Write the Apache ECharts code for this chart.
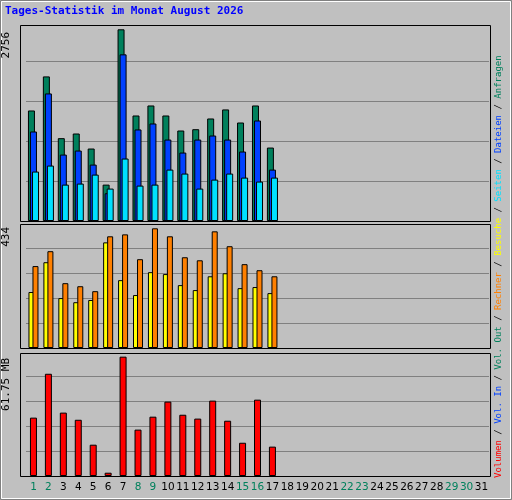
<!DOCTYPE html>
<html><head><meta charset="utf-8">
<script src="https://cdn.jsdelivr.net/npm/echarts@6/dist/echarts.min.js"></script>
<style>html,body{margin:0;padding:0;background:#c0c0c0}#c{width:512px;height:500px}</style>
</head><body><div id="c"></div>
<script>
const days = Array.from({length:31},(_,i)=>String(i+1));
const weekendDays = [1,2,8,9,15,16,22,23,29,30];
const anfragen = [1589,2079,1191,1258,1042,523,2756,1517,1661,1517,1301,1320,1474,1604,1416,1661,1056];
const dateien  = [1287,1834,955,1013,811,399,2396,1316,1402,1171,984,1171,1229,1171,999,1445,739];
const seiten   = [711,797,523,538,667,466,898,509,523,739,682,466,595,682,624,567,624];
const besuche  = [203,311,181,166,174,383,246,192,275,268,228,210,260,271,217,221,199];
const rechner  = [297,351,235,224,206,405,412,322,434,405,329,318,423,369,304,282,260];
const volumen  = [30.2,52.9,32.8,29.1,16.2,1.7,61.75,24.0,30.7,38.5,31.7,29.7,39.0,28.6,17.2,39.5,15.2];
const maxLabels = ['2756','434','61.75 MB'];
const title = 'Tages-Statistik im Monat August 2026';

const chart = echarts.init(document.getElementById('c'));
const panels = [{top:25,height:196},{top:224,height:124},{top:353,height:123}];
const grids = panels.map(p=>({left:26,right:23,top:p.top,height:p.height,show:false}));
const xAxes = [0,1,2].map(i=>({type:'category',gridIndex:i,data:days,
  axisLine:{show:false},axisTick:{show:false},
  axisLabel:i===2?{show:true,interval:0,margin:6,
    formatter:v=>weekendDays.includes(+v)?'{w|'+v+'}':'{n|'+v+'}',
    rich:{w:{color:'#00805c',fontFamily:'DejaVu Sans',fontSize:10.5},n:{color:'#000',fontFamily:'DejaVu Sans',fontSize:10.5}}}:{show:false}}));
const gl = {show:true,lineStyle:{color:'#808080',width:1}};
const yAxes = [
  {gridIndex:0,min:0,max:2818,interval:576},
  {gridIndex:1,min:0,max:449.6,interval:90.4},
  {gridIndex:2,min:0,max:63.65,interval:12.94}
].map(a=>Object.assign(a,{type:'value',axisLabel:{show:false},axisLine:{show:false},axisTick:{show:false},splitLine:gl}));
const bs = c=>({color:c,borderColor:'#000',borderWidth:1});
const sep = '{s| / }';
const F = '9px "DejaVu Sans Mono"';
chart.setOption({
  backgroundColor:'#c0c0c0',animation:false,
  grid:grids,xAxis:xAxes,yAxis:yAxes,
  series:[
    {type:'bar',xAxisIndex:0,yAxisIndex:0,data:anfragen,barWidth:7,barGap:'-71%',itemStyle:bs('#00805c')},
    {type:'bar',xAxisIndex:0,yAxisIndex:0,data:dateien,barWidth:7,barGap:'-71%',itemStyle:bs('#0040ff')},
    {type:'bar',xAxisIndex:0,yAxisIndex:0,data:seiten,barWidth:7,barGap:'-71%',itemStyle:bs('#00e0ff')},
    {type:'bar',xAxisIndex:1,yAxisIndex:1,data:besuche,barWidth:6,barGap:'-33%',itemStyle:bs('#ffff00')},
    {type:'bar',xAxisIndex:1,yAxisIndex:1,data:rechner,barWidth:6,barGap:'-33%',itemStyle:bs('#ff8000')},
    {type:'bar',xAxisIndex:2,yAxisIndex:2,data:volumen,barWidth:7,itemStyle:bs('#ff0000')}
  ],
  graphic:[
    {type:'rect',shape:{x:0.5,y:0.5,width:511,height:499},style:{fill:'none',stroke:'#808080',lineWidth:1}},
    {type:'rect',shape:{x:1.5,y:1.5,width:509,height:497},style:{fill:'none',stroke:'#fff',lineWidth:1}},
    ...panels.map(p=>({type:'rect',z:100,shape:{x:20.5,y:p.top+0.5,width:470,height:p.height},style:{fill:'none',stroke:'#000',lineWidth:1}})),
    {type:'text',left:5,top:6,style:{text:title,fill:'#0000ff',font:'bold 11px "DejaVu Sans Mono"'}},
    {type:'text',x:6,y:32,rotation:Math.PI/2,style:{text:maxLabels[0],align:'right',verticalAlign:'middle',font:'11px "DejaVu Sans Mono"',fill:'#000'}},
    {type:'text',x:6,y:227,rotation:Math.PI/2,style:{text:maxLabels[1],align:'right',verticalAlign:'middle',font:'11px "DejaVu Sans Mono"',fill:'#000'}},
    {type:'text',x:6,y:358,rotation:Math.PI/2,style:{text:maxLabels[2],align:'right',verticalAlign:'middle',font:'11px "DejaVu Sans Mono"',fill:'#000'}},
    {type:'text',x:499,y:478,rotation:Math.PI/2,style:{
      text:'{r|Volumen}'+sep+'{b|Vol. In}'+sep+'{g|Vol. Out}'+sep+'{o|Rechner}'+sep+'{y|Besuche}'+sep+'{c|Seiten}'+sep+'{b|Dateien}'+sep+'{g|Anfragen}',
      align:'left',verticalAlign:'middle',font:F,
      rich:{r:{fill:'#ff0000',font:F},b:{fill:'#0040ff',font:F},
        g:{fill:'#00805c',font:F},o:{fill:'#ff8000',font:F},
        y:{fill:'#ffff00',font:F},c:{fill:'#00e0ff',font:F},
        s:{fill:'#000',font:F}}}}
  ]
});
</script></body></html>
